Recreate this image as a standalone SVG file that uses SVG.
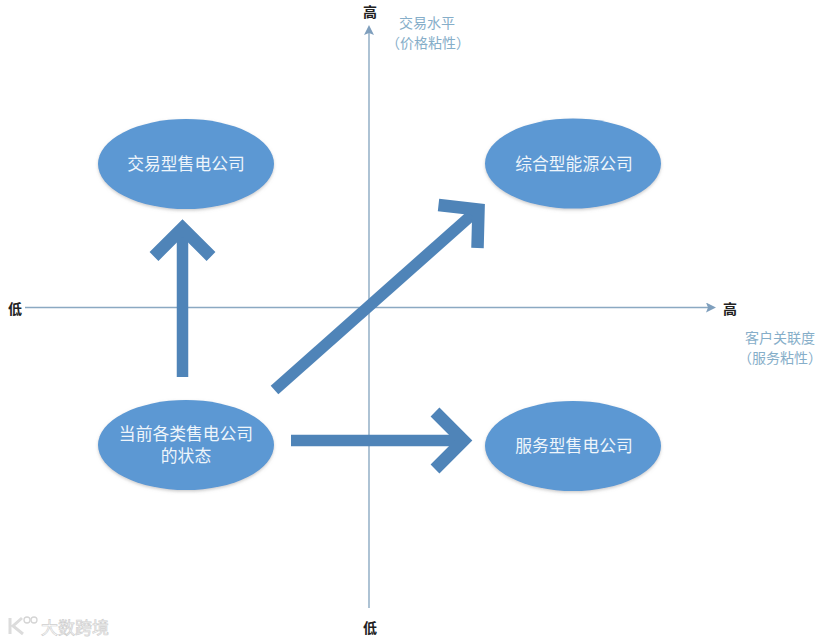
<svg xmlns="http://www.w3.org/2000/svg" width="830" height="643" viewBox="0 0 830 643">
<style>
text{font-family:"Noto Sans CJK SC","Liberation Sans",sans-serif;text-anchor:middle}
.n{fill:#5b98d3;filter:url(#s)}
.t{fill:#eef5fb;font-size:16.800px}
.ax{stroke:#8ba9c2;stroke-width:1.4;fill:none;marker-end:url(#a)}
.ar{stroke:#4f84b8;stroke-width:11.5;fill:none;stroke-miterlimit:10}
.h{stroke-width:12.5}
.b{fill:#222;font-size:14px;font-weight:700}
.c{fill:#86aec9;font-size:14px}
.w{fill:#fff;stroke:#cfcfcf;stroke-width:.7;font-size:17px}
</style>
<defs>
<filter id="s" x="-10%" y="-10%" width="120%" height="125%"><feDropShadow dx="0" dy="1.500" stdDeviation="1.500" flood-color="#9a9a9a" flood-opacity=".5"/></filter>
<marker id="a" markerWidth="12" markerHeight="12" refX="2" refY="5" orient="auto" markerUnits="userSpaceOnUse"><path d="M0 0L10 5L0 10L2 5Z" fill="#7f9fbd"/></marker>
</defs>
<rect width="830" height="643" fill="#fff"/>
<g id="connectors">
<path class="ax" d="M369 608V33"/>
<path class="ax" d="M25 307.500H708"/>
<path class="ar" d="M182.500 377V235"/>
<path class="ar h" d="M154 256.500L182.500 228L211 256.500"/>
<path class="ar" d="M291 440.500H460"/>
<path class="ar h" d="M435 412L463.500 440.500L435 469"/>
<path class="ar" d="M274.500 390L474 213"/>
<path class="ar h" d="M438.500 205L478.500 209.500L477.500 248"/>
</g>
<g id="node-trade"><ellipse class="n" cx="186" cy="164" rx="88" ry="45"/><text class="t" x="186" y="170">交易型售电公司</text></g>
<g id="node-integrated"><ellipse class="n" cx="573" cy="163.500" rx="88" ry="45"/><text class="t" x="574" y="170">综合型能源公司</text></g>
<g id="node-current"><ellipse class="n" cx="186" cy="445" rx="88" ry="45"/><text class="t" x="186" y="440">当前各类售电公司</text><text class="t" x="186" y="462">的状态</text></g>
<g id="node-service"><ellipse class="n" cx="573" cy="446" rx="88" ry="45"/><text class="t" x="574" y="452">服务型售电公司</text></g>
<g id="labels">
<text class="b" x="370" y="17">高</text>
<text class="b" x="15" y="314">低</text>
<text class="b" x="730" y="314">高</text>
<text class="b" x="370" y="633">低</text>
<text class="c" x="427" y="28">交易水平</text>
<text class="c" x="428" y="48">（价格粘性）</text>
<text class="c" x="780" y="343">客户关联度</text>
<text class="c" x="780" y="363">（服务粘性）</text>
</g>
<g id="watermark">
<path d="M10 618V634M22 618L13 626L23 634" fill="none" stroke="#dcdcdc" stroke-width="3"/>
<circle cx="27" cy="620" r="3" fill="none" stroke="#d5d5d5" stroke-width="1.300"/>
<circle cx="34" cy="620" r="3" fill="none" stroke="#d5d5d5" stroke-width="1.300"/>
<text class="w" x="75" y="634">大数跨境</text>
</g>
</svg>
